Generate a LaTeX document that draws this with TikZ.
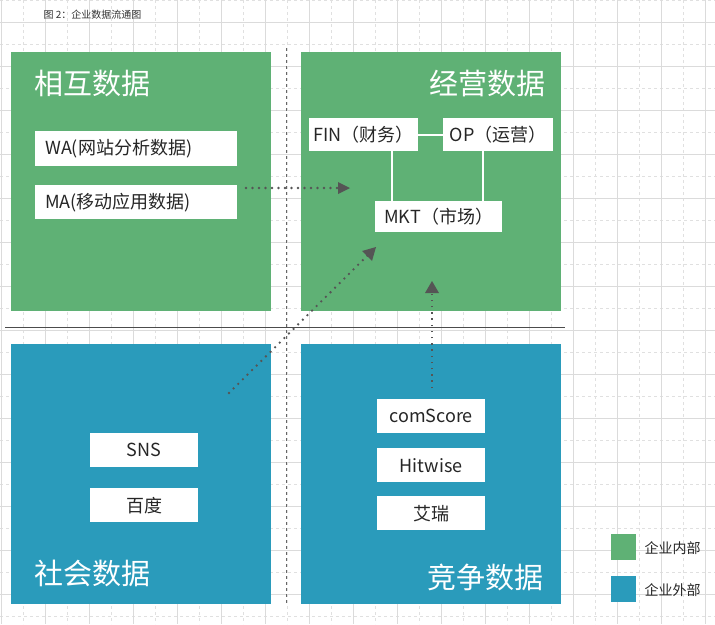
\documentclass[tikz,border=0pt]{standalone}
\usepackage{fontspec}
\setmainfont{Noto Sans CJK SC}
\usetikzlibrary{arrows.meta,calc}
\definecolor{gr}{HTML}{5FB175}
\definecolor{bl}{HTML}{2A9BBB}
\definecolor{dk}{HTML}{555555}
\begin{document}
\begin{tikzpicture}[x=1pt,y=-1pt,
  wb/.style={draw=none,fill=white,inner sep=0,anchor=north west,font=\fontsize{18}{18}\selectfont,text=black!85},
  ttl/.style={text=white,font=\fontsize{29}{29}\selectfont},
  dots/.style={dk,line width=2.6pt,dash pattern=on 0pt off 6.5pt,line cap=round}]
\useasboundingbox (0,0) rectangle (715,624);
\fill[white] (0,0) rectangle (715,624);
% grid
\foreach \x in {23,67,...,715} \draw[black!12,dashed] (\x,0)--(\x,624);
\foreach \y in {0,44,...,624} \draw[black!12,dashed] (0,\y)--(715,\y);
\foreach \x in {1,45,...,715} \draw[black!14] (\x,0)--(\x,624);
\foreach \y in {22,66,...,624} \draw[black!14] (0,\y)--(715,\y);
\node[anchor=west,font=\fontsize{10}{10}\selectfont,text=black!80] (cap) at (40,15) {图 2：企业数据流通图};
% axes
\draw[black!60,dashed] (286,48)--(286,605);
\draw[black!70,line width=0.8pt] (5,327)--(565,327);
% quadrants
\fill[gr] (11,52) rectangle (271,311);
\fill[gr] (301,52) rectangle (561,311);
\fill[bl] (11,344) rectangle (271,604);
\fill[bl] (301,344) rectangle (561,604);
\node[ttl,anchor=west] (t1) at (31,84) {相互数据};
\node[ttl,anchor=east] (t2) at (549,84) {经营数据};
\node[ttl,anchor=west] (t3) at (31,573) {社会数据};
\node[ttl,anchor=east] (t4) at (547,577) {竞争数据};
% white boxes
\node[wb,minimum width=202pt,minimum height=35pt,text width=194pt,align=left] (wa) at (35,131) {\hspace*{6pt}WA(网站分析数据)};
\node[wb,minimum width=202pt,minimum height=34pt,text width=194pt,align=left] (ma) at (35,185) {\hspace*{6pt}MA(移动应用数据)};
\node[wb,minimum width=109pt,minimum height=33pt,align=center] (fin) at (309,118) {FIN（财务）};
\node[wb,minimum width=110pt,minimum height=33pt,align=center] (op) at (443,118) {OP（运营）};
\node[wb,minimum width=127pt,minimum height=31pt,align=center] (mkt) at (375,201) {MKT（市场）};
\node[wb,minimum width=108pt,minimum height=34pt] (sns) at (90,433) {SNS};
\node[wb,minimum width=108pt,minimum height=34pt] (bd) at (90,488) {百度};
\node[wb,minimum width=108pt,minimum height=34pt] (cs) at (377,399) {comScore};
\node[wb,minimum width=108pt,minimum height=34pt] (hw) at (377,448) {Hitwise};
\node[wb,minimum width=108pt,minimum height=34pt] (ar) at (377,496) {艾瑞};
% connectors
\draw[white,line width=2pt] (fin.east) -- (op.west);
\draw[white,line width=2pt] (fin.south -| 392,0) -- (mkt.north -| 392,0);
\draw[white,line width=2pt] (op.south -| 483,0) -- (mkt.north -| 483,0);
% arrows
\coordinate (a1s) at (246,188); \coordinate (a1e) at (350,188);
\coordinate (a2s) at (229,393); \coordinate (a2e) at (376,247);
\coordinate (a3s) at (432,388); \coordinate (a3e) at (432,281);
\draw[dots] (a1s) -- ($(a1e)+(-8,0)$);
\draw[dots] (a2s) -- ($(a2e)+(-7,7)$);
\draw[dk,line width=2pt,dash pattern=on 1.5pt off 4.7pt] (a3s) -- ($(a3e)+(0,10)$);
\fill[dk] (a1e) -- ++(-12,-6) -- ++(0,12) -- cycle;
\fill[dk] (a2e) -- ++(-14,4) -- ++(10,10) -- cycle;
\fill[dk] (a3e) -- ++(-7,12) -- ++(14,0) -- cycle;
% legend
\fill[gr] (611,534) rectangle (636,560);
\fill[bl] (611,576) rectangle (636,602);
\node[anchor=west,font=\fontsize{14}{14}\selectfont,text=black!85] (l1) at (641,548) {企业内部};
\node[anchor=west,font=\fontsize{14}{14}\selectfont,text=black!85] (l2) at (641,590) {企业外部};
\end{tikzpicture}
\end{document}
